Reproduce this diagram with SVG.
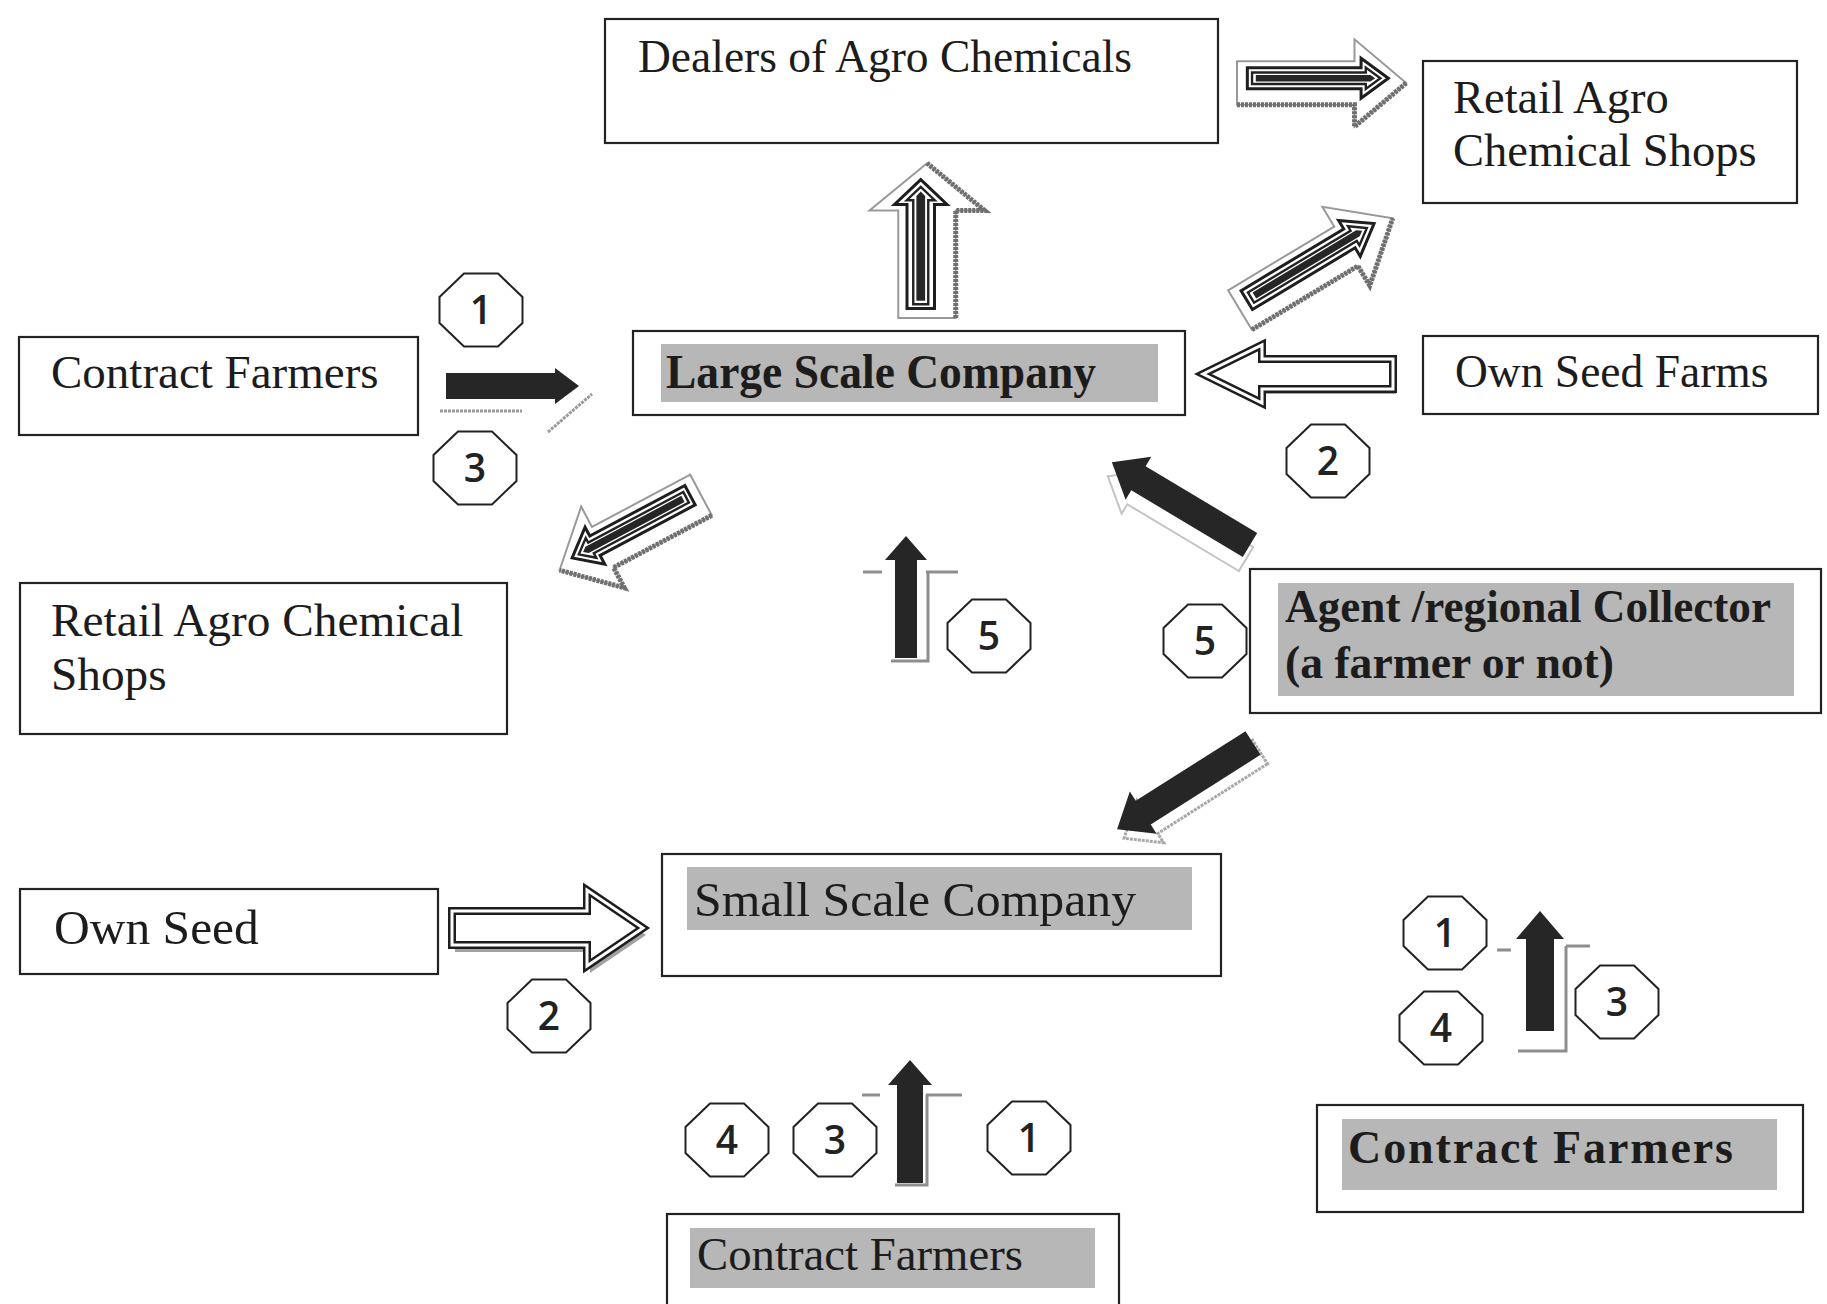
<svg xmlns="http://www.w3.org/2000/svg" width="1827" height="1304" viewBox="0 0 1827 1304">
<style>
.box{fill:#fff;stroke:#222;stroke-width:2.2}
.hl{fill:#b7b7b7}
.t{font-family:"Liberation Serif","Times New Roman",serif;fill:#1c1c1c}
.b{font-weight:bold}
.oct{fill:#fff;stroke:#222;stroke-width:2}
.num{font-family:"Open Sans","Noto Sans",sans-serif;font-weight:600;font-size:39px;fill:#222;text-anchor:middle}
.solid{fill:#262626}
.shfill{fill:#a2a2a2}
.shline{fill:none;stroke:#9a9a9a;stroke-width:3}
.hOut{fill:#fff;stroke:#1e1e1e;stroke-width:8;stroke-linejoin:miter}
.hIn{fill:none;stroke:#fff;stroke-width:3;stroke-linejoin:miter}
.sOuter{fill:#fff;stroke:#999;stroke-width:2}
.sShadow{fill:none;stroke:#6f6f6f;stroke-width:5;stroke-dasharray:3 1}
.sOut{fill:#fff;stroke:#1e1e1e;stroke-width:3}
.sIn{fill:none;stroke:#222;stroke-width:2.4}
.core{fill:#262626}
.brk{fill:none;stroke:#8e8e8e;stroke-width:3}
</style>
<defs>
<polygon id="oct" points="-17,-36.5 17,-36.5 41.5,-13 41.5,13 17,36.5 -17,36.5 -41.5,13 -41.5,-13"/>
<!-- striped 3D arrow, unit length 180, pointing +x -->
<path id="stOuter" vector-effect="non-scaling-stroke" d="M0,-23 L125,-23 L125,-46 L180,0 L125,46 L125,23 L0,23 Z"/>
<path id="stShadow" vector-effect="non-scaling-stroke" d="M0,23 L125,23 L125,46 L180,0"/>
<path id="stMain" vector-effect="non-scaling-stroke" d="M11,-16 L132,-16 L132,-26 L161,-5 L132,16 L132,6 L11,6 Z"/>
<path id="stInner" vector-effect="non-scaling-stroke" d="M16,-11 L137,-11 L137,-16.2 L152.5,-5 L137,6.2 L137,1 L16,1 Z"/>
<path id="stCore" d="M20,-8.5 L142,-8.5 L147,-5 L142,-1.5 L20,-1.5 Z"/>
<g id="striped">
  <use href="#stOuter" class="sOuter"/>
  <use href="#stShadow" class="sShadow"/>
  <use href="#stMain" class="sOut"/>
  <use href="#stInner" class="sIn"/>
  <use href="#stCore" class="core"/>
</g>
<path id="aD" d="M0,-15 L131,-15 L131,-29 L190,0 L131,29 L131,15 L0,15 Z"/>
<path id="aJ" d="M0,-17 L135,-17 L135,-38 L191,0 L135,38 L135,17 L0,17 Z"/>
<path id="sF" d="M0,-13 L109,-13 L109,-18 L133,0 L109,18 L109,13 L0,13 Z"/>
<path id="sG" d="M0,-11 L98,-11 L98,-21 L122,0 L98,21 L98,11 L0,11 Z"/>
<path id="sH" d="M0,-14 L130,-14 L130,-25 L161,0 L130,25 L130,14 L0,14 Z"/>
<path id="sK" d="M0,-13 L98,-13 L98,-22 L123,0 L98,22 L98,13 L0,13 Z"/>
<path id="sL" d="M0,-14 L92,-14 L92,-24 L120,0 L92,24 L92,14 L0,14 Z"/>
</defs>
<rect width="1827" height="1304" fill="#fff"/>

<g id="connectors">
  <!-- A: Dealers -> Retail Agro (top) -->
  <use id="arrow-dealers-retail" href="#striped" transform="translate(1237,83) scale(0.94,0.95)"/>
  <!-- B: Large -> Dealers -->
  <use id="arrow-large-dealers" href="#striped" transform="translate(927,318) rotate(-90) scale(0.86,1.25)"/>
  <!-- C: Large -> Retail Agro (top right) -->
  <use id="arrow-large-retailtop" href="#striped" transform="translate(1240,310) rotate(-31) scale(0.99,1)"/>
  <!-- E: Large -> Retail Agro (left) -->
  <use id="arrow-large-retailleft" href="#striped" transform="translate(701,495) rotate(152) scale(0.89,-1)"/>
  <!-- D: Own Seed Farms -> Large -->
  <g id="arrow-ownseedfarms-large">
    <use href="#aD" class="shfill" transform="translate(3,5) translate(1393,374) rotate(180)"/>
    <use href="#aD" class="hOut" transform="translate(1393,374) rotate(180)"/>
    <use href="#aD" class="hIn" transform="translate(1393,374) rotate(180)"/>
  </g>
  <!-- J: Own Seed -> Small -->
  <g id="arrow-ownseed-small">
    <use href="#aJ" class="shfill" transform="translate(3,7) translate(452,928)"/>
    <use href="#aJ" class="hOut" transform="translate(452,928)"/>
    <use href="#aJ" class="hIn" transform="translate(452,928)"/>
  </g>
  <!-- F: Contract Farmers -> Large -->
  <g id="arrow-contract-large">
    <path class="shline" d="M440,411 L522,411 M548,432 L592,394" stroke-dasharray="3 1"/>
    <use href="#sF" class="solid" transform="translate(446,386)"/>
  </g>
  <!-- G: up arrow 5 -->
  <g id="arrow-up-5">
    <path class="brk" d="M863,572 L882,572 M926,572 L958,572 M928,572 L928,661 L891,661"/>
    <use href="#sG" class="solid" transform="translate(906,658) rotate(-90)"/>
  </g>
  <!-- H: Agent -> Large -->
  <g id="arrow-agent-large">
    <use href="#sH" fill="none" stroke="#c4c4c4" stroke-width="2" transform="translate(-4,14) translate(1250,545) rotate(210.9)"/>
    <use href="#sH" class="solid" transform="translate(1250,545) rotate(210.9)"/>
  </g>
  <!-- I: Agent -> Small -->
  <g id="arrow-agent-small">
    <use href="#sH" fill="none" stroke="#a8a8a8" stroke-width="3" stroke-dasharray="3 1" transform="translate(7,9) translate(1253,743) rotate(147.6)"/>
    <use href="#sH" class="solid" transform="translate(1253,743) rotate(147.6)"/>
  </g>
  <!-- K: Contract Farmers (bottom) -> Small -->
  <g id="arrow-contractbottom-small">
    <path class="brk" d="M862,1095 L880,1095 M926,1095 L962,1095 M927,1095 L927,1185 L895,1185"/>
    <use href="#sK" class="solid" transform="translate(910,1183) rotate(-90)"/>
  </g>
  <!-- L: Contract Farmers (right) up -->
  <g id="arrow-contractright-up">
    <path class="brk" d="M1497,950 L1511,950 M1566,946 L1590,946 M1566,946 L1566,1051 L1518,1051"/>
    <use href="#sL" class="solid" transform="translate(1540,1031) rotate(-90)"/>
  </g>
</g>

<g id="node-dealers">
  <rect class="box" x="605" y="19" width="613" height="124"/>
  <text class="t" x="638" y="72" font-size="45.5">Dealers of Agro Chemicals</text>
</g>
<g id="node-retail-top">
  <rect class="box" x="1423" y="61" width="374" height="142"/>
  <text class="t" x="1453" y="113" font-size="46.5">Retail Agro</text>
  <text class="t" x="1453" y="166" font-size="46.5">Chemical Shops</text>
</g>
<g id="node-contract-left">
  <rect class="box" x="19" y="337" width="399" height="98"/>
  <text class="t" x="51" y="388" font-size="47">Contract Farmers</text>
</g>
<g id="node-large">
  <rect class="box" x="633" y="331" width="552" height="84"/>
  <rect class="hl" x="661" y="344" width="497" height="58"/>
  <text class="t b" x="666" y="388" font-size="48" textLength="430" lengthAdjust="spacingAndGlyphs">Large Scale Company</text>
</g>
<g id="node-ownseedfarms">
  <rect class="box" x="1423" y="336" width="395" height="78"/>
  <text class="t" x="1455" y="387" font-size="45.5">Own Seed Farms</text>
</g>
<g id="node-retail-left">
  <rect class="box" x="20" y="583" width="487" height="151"/>
  <text class="t" x="51" y="636" font-size="47.3">Retail Agro Chemical</text>
  <text class="t" x="51" y="690" font-size="47.3">Shops</text>
</g>
<g id="node-agent">
  <rect class="box" x="1250" y="569" width="571" height="144"/>
  <rect class="hl" x="1278" y="583" width="516" height="113"/>
  <text class="t b" x="1285" y="622" font-size="46" textLength="486" lengthAdjust="spacingAndGlyphs">Agent /regional Collector</text>
  <text class="t b" x="1285" y="678" font-size="46" textLength="329" lengthAdjust="spacingAndGlyphs">(a farmer or not)</text>
</g>
<g id="node-ownseed">
  <rect class="box" x="20" y="889" width="418" height="85"/>
  <text class="t" x="54" y="944" font-size="49.5">Own Seed</text>
</g>
<g id="node-small">
  <rect class="box" x="662" y="854" width="559" height="122"/>
  <rect class="hl" x="687" y="867" width="505" height="63"/>
  <text class="t" x="694" y="916" font-size="49" textLength="442" lengthAdjust="spacingAndGlyphs">Small Scale Company</text>
</g>
<g id="node-contract-bottom">
  <rect class="box" x="667" y="1214" width="452" height="100"/>
  <rect class="hl" x="690" y="1228" width="405" height="60"/>
  <text class="t" x="697" y="1270" font-size="46" textLength="326" lengthAdjust="spacingAndGlyphs">Contract Farmers</text>
</g>
<g id="node-contract-right">
  <rect class="box" x="1317" y="1105" width="486" height="107"/>
  <rect class="hl" x="1342" y="1119" width="435" height="71"/>
  <text class="t b" x="1348" y="1163" font-size="46" textLength="385" lengthAdjust="spacing">Contract Farmers</text>
</g>

<g id="labels">
  <g transform="translate(481,310)"><use href="#oct" class="oct"/><text class="num" y="14">1</text></g>
  <g transform="translate(475,468)"><use href="#oct" class="oct"/><text class="num" y="14">3</text></g>
  <g transform="translate(1328,461)"><use href="#oct" class="oct"/><text class="num" y="14">2</text></g>
  <g transform="translate(989,636)"><use href="#oct" class="oct"/><text class="num" y="14">5</text></g>
  <g transform="translate(1205,641)"><use href="#oct" class="oct"/><text class="num" y="14">5</text></g>
  <g transform="translate(1445,933)"><use href="#oct" class="oct"/><text class="num" y="14">1</text></g>
  <g transform="translate(1441,1028)"><use href="#oct" class="oct"/><text class="num" y="14">4</text></g>
  <g transform="translate(1617,1002)"><use href="#oct" class="oct"/><text class="num" y="14">3</text></g>
  <g transform="translate(549,1016)"><use href="#oct" class="oct"/><text class="num" y="14">2</text></g>
  <g transform="translate(727,1140)"><use href="#oct" class="oct"/><text class="num" y="14">4</text></g>
  <g transform="translate(835,1140)"><use href="#oct" class="oct"/><text class="num" y="14">3</text></g>
  <g transform="translate(1029,1138)"><use href="#oct" class="oct"/><text class="num" y="14">1</text></g>
</g>
</svg>
